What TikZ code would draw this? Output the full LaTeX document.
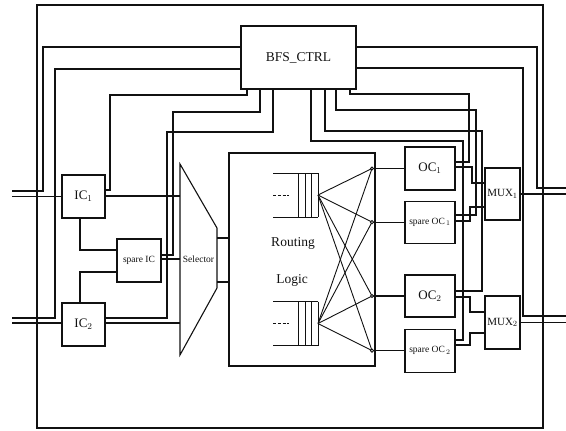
\documentclass[tikz,border=0pt]{standalone}
\usepackage{fontspec}
\setmainfont{Liberation Serif}
\usetikzlibrary{positioning}
\definecolor{bfsInk}{HTML}{111111}
\tikzset{
  every picture/.style={text=bfsInk},
  bfs box/.style={draw=bfsInk, line width=1.1pt, inner sep=0pt, align=center},
  bfs wire/.style={draw=bfsInk, line width=1.1pt},
  bfs thin/.style={draw=bfsInk, line width=0.9pt},
  bfs big/.style={font=\fontsize{13.5}{15}\selectfont},
  bfs mid/.style={font=\fontsize{13}{15}\selectfont},
  bfs small/.style={font=\fontsize{9.5}{11}\selectfont}
}

\begin{document}
\begin{tikzpicture}[x=1pt,y=-1pt]
  \useasboundingbox (0,0) rectangle (566,431);
  \draw[bfs wire] (37,5) rectangle (543,428);

  % blocks
  \node[bfs box, bfs big, minimum width=115pt, minimum height=63pt] (bfs) at (298.5,57.5) {BFS\_CTRL};
  \node[bfs box, bfs mid, minimum width=43pt, minimum height=43pt] (ic1) at (83.5,196.5) {IC$_1$};
  \node[bfs box, bfs mid, minimum width=43pt, minimum height=43pt] (ic2) at (83.5,324.5) {IC$_2$};
  \node[bfs box, bfs small, minimum width=44pt, minimum height=43pt] (spic) at (139,260.5) {spare IC};
  \node[bfs box, minimum width=146pt, minimum height=213pt] (rl) at (302,259.5) {};
  \node[bfs big] (rt) at (293,243) {Routing};
  \node[bfs big] (lg) at (292,280) {Logic};
  \node[bfs box, bfs mid, minimum width=50pt, minimum height=43pt] (oc1) at (430,168.5) {OC$_1$};
  \node[bfs box, bfs small, minimum width=50pt, minimum height=42pt, below=10pt of oc1] (soc1) {spare OC$_{\,1}$};
  \node[bfs box, bfs mid, minimum width=50pt, minimum height=42pt] (oc2) at (430,296) {OC$_2$};
  \node[bfs box, bfs small, minimum width=50pt, minimum height=43pt, below=11pt of oc2] (soc2) {spare OC$_{\,2}$};
  \node[bfs box, font=\fontsize{11}{13}\selectfont, minimum width=35pt, minimum height=52pt] (mux1) at (502.5,194) {MUX$_1$};
  \node[bfs box, font=\fontsize{11}{13}\selectfont, minimum width=35pt, minimum height=53pt] (mux2) at (502.5,322.5) {MUX$_2$};

  % selector
  \coordinate (s1) at (180,164);
  \coordinate (s2) at (217,228);
  \coordinate (s3) at (217,288);
  \coordinate (s4) at (180,355);
  \draw[bfs wire] (s1) -- (s2) -- (s3) -- (s4) -- cycle;
  \node[bfs small] (sel) at (198.5,259) {Selector};

  % queues and crossbar
  \foreach \qn/\qy in {q1/195,q2/323.5} {
    \draw[bfs thin] (273,\qy-22) -- (318,\qy-22) (273,\qy+22) -- (318,\qy+22);
    \foreach \qx in {298,305,311,318}
      \draw[bfs thin] (\qx,\qy-22) -- (\qx,\qy+22);
    \draw[bfs thin, dash pattern=on 3pt off 1.8pt] (273,\qy) -- (289,\qy);
    \coordinate (\qn) at (318,\qy);
  }
  \coordinate (o1) at (oc1.west -| 372,0);
  \coordinate (o2) at (soc1.west -| 372,0);
  \coordinate (o3) at (oc2.west -| 372,0);
  \coordinate (o4) at (soc2.west -| 372,0);
  \foreach \q in {q1,q2}
    \foreach \o in {o1,o2,o3,o4}
      \draw[bfs thin] (\q) -- (\o);
  \foreach \o/\c in {o1/oc1,o2/soc1,o3/oc2,o4/soc2} {
    \draw[bfs wire] (\o) -- (\c.west);
    \draw[bfs thin, fill=white] (\o) circle[radius=1.6pt];
  }

  % edge ends
  \coordinate (in1c) at (12,191);
  \coordinate (in1d) at (12,196.5);
  \coordinate (in2c) at (12,318);
  \coordinate (in2d) at (12,323);
  \coordinate (out1c) at (566,188);
  \coordinate (out1d) at (566,194);
  \coordinate (out2c) at (566,316);
  \coordinate (out2d) at (566,322.5);

  % inputs side
  \draw[bfs wire] (bfs.west |- 0,47) -| (43,191) -- (in1c);
  \draw[bfs wire] (bfs.west |- 0,69) -| (55,318) -- (in2c);
  \draw[bfs wire] (in1d) -- (ic1.west);
  \draw[bfs wire] (in2d) -- (ic2.west |- in2d);
  \draw[bfs wire] (ic1.east |- 0,190) -| (110,95) -| (bfs.south -| 247,0);
  \draw[bfs wire] (spic.east |- 0,255) -| (173,112) -| (bfs.south -| 260,0);
  \draw[bfs wire] (ic2.east |- 0,318) -| (167,132) -| (bfs.south -| 273,0);
  \draw[bfs wire] (ic1.east |- 0,196) -- (s1 |- 0,196);
  \draw[bfs wire] (spic.east |- 0,259) -- (s1 |- 0,259);
  \draw[bfs wire] (ic2.east |- 0,323) -- (s1 |- 0,323);
  \draw[bfs wire] (ic1.south -| 80,0) |- (spic.west |- 0,250);
  \draw[bfs wire] (ic2.north -| 80,0) |- (spic.west |- 0,272);
  \draw[bfs wire] (s2 |- 0,238) -- (rl.west |- 0,238);
  \draw[bfs wire] (s3 |- 0,282) -- (rl.west |- 0,282);

  % outputs side
  \draw[bfs wire] (bfs.east |- 0,47) -| (537,188) -- (out1c);
  \draw[bfs wire] (bfs.east |- 0,68) -| (523,316) -- (out2c);
  \draw[bfs wire] (mux1.east) -- (out1d);
  \draw[bfs wire] (mux2.east) -- (out2d);
  \draw[bfs wire] (bfs.south -| 350,0) |- (469,94) |- (oc1.east |- 0,162);
  \draw[bfs wire] (bfs.south -| 336,0) |- (476,110) |- (soc1.east |- 0,215);
  \draw[bfs wire] (bfs.south -| 325,0) |- (482,131) |- (oc2.east |- 0,291);
  \draw[bfs wire] (bfs.south -| 311,0) |- (463,141) |- (soc2.east |- 0,340);
  \draw[bfs wire] (oc1.east |- 0,167) -| (472,183) -- (mux1.west |- 0,183);
  \draw[bfs wire] (soc1.east |- 0,221) -| (470,207) -- (mux1.west |- 0,207);
  \draw[bfs wire] (oc2.east |- 0,297) -| (470,312) -- (mux2.west |- 0,312);
  \draw[bfs wire] (soc2.east |- 0,345) -| (470,333) -- (mux2.west |- 0,333);
\end{tikzpicture}
\end{document}
